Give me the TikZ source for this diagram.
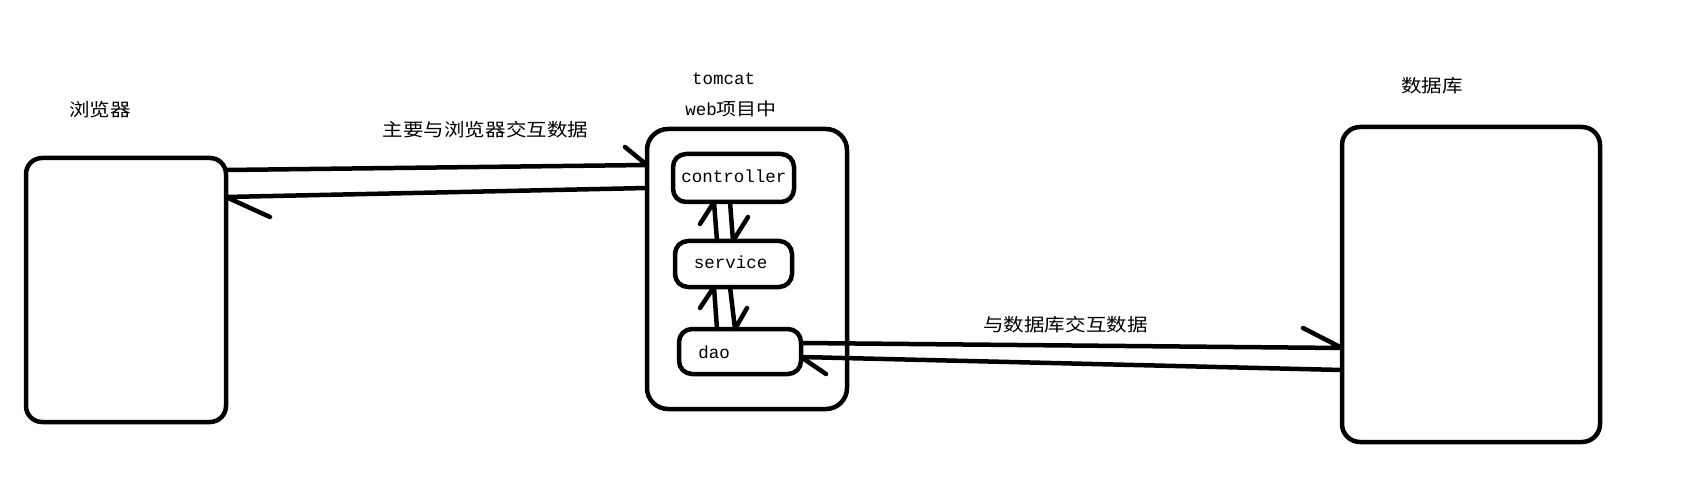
\documentclass[tikz,border=0pt]{standalone}
\usepackage{fontspec}
\newfontfamily\cjk[FakeStretch=1.14]{Noto Sans CJK SC}
\newfontfamily\mono{Liberation Mono}
\usetikzlibrary{calc}
\begin{document}
\begin{tikzpicture}[x=1pt,y=-1pt,
  bigbox/.style={draw, line width=4.5pt, rounded corners=16pt, inner sep=0pt, outer sep=0pt},
  inbox/.style={draw, line width=4.5pt, rounded corners=13pt, inner sep=0pt, outer sep=0pt},
  cjklabel/.style={inner sep=0pt, font=\cjk\fontsize{18}{20}\selectfont},
  monolabel/.style={inner sep=0pt, font=\mono\fontsize{17.5}{20}\selectfont},
  conn/.style={line width=4.5pt, line join=round, line cap=round}]
\useasboundingbox (0,0) rectangle (1706,497);

% boxes
\node[bigbox, minimum width=200pt, minimum height=264pt] (browser) at (126,290) {};
\node[bigbox, rounded corners=21pt, minimum width=200pt, minimum height=280pt] (tomcat) at (747,269) {};
\node[inbox, minimum width=121pt, minimum height=48pt] (ctrl) at (733.5,178) {};
\node[inbox, minimum width=117pt, minimum height=46pt] (serv) at (733.5,264) {};
\node[inbox, minimum width=122pt, minimum height=45pt] (dao) at (740,351.5) {};
\node[bigbox, rounded corners=18pt, minimum width=258pt, minimum height=315pt] (db) at (1471,284.5) {};

% texts
\node[cjklabel] (lbrowser) at (100,110) {浏览器};
\node[cjklabel] (lmain) at (485.5,130) {主要与浏览器交互数据};
\node[monolabel] (ltomcat) at (723.5,79) {tomcat};
\node[monolabel] (lweb) at (731,108.5) {web{\cjk 项目中}};
\node[cjklabel] (ldb) at (1432,86) {数据库};
\node[cjklabel] (ldbx) at (1065.5,325) {与数据库交互数据};
\node[monolabel] (tctrl) at (734,176) {controller};
\node[monolabel] (tserv) at (730.5,262) {service};
\node[monolabel] (tdao) at (714,352) {dao};

% browser <-> tomcat
\draw[conn] (browser.east |- 0,170) -- (tomcat.west |- 0,165) -- ++(-22,-18);
\draw[conn] (tomcat.west |- 0,188) -- (browser.east |- 0,197) -- ++(44,20);

% controller <-> service
\draw[conn] (serv.north -| 717,0) -- (ctrl.south -| 714,0) -- ++(-14,22);
\draw[conn] (ctrl.south -| 730,0) -- (serv.north -| 733,0) -- ++(15,-24);

% service <-> dao
\draw[conn] (dao.north -| 717,0) -- (serv.south -| 714,0) -- ++(-14,21);
\draw[conn] (serv.south -| 730,0) -- (dao.north -| 735,0) -- ++(12,-21);

% dao <-> database
\draw[conn] (dao.east |- 0,343) -- (db.west |- 0,348) -- ++(-39,-20);
\draw[conn] (db.west |- 0,370) -- (dao.east |- 0,357) -- ++(25,17);
\end{tikzpicture}
\end{document}
